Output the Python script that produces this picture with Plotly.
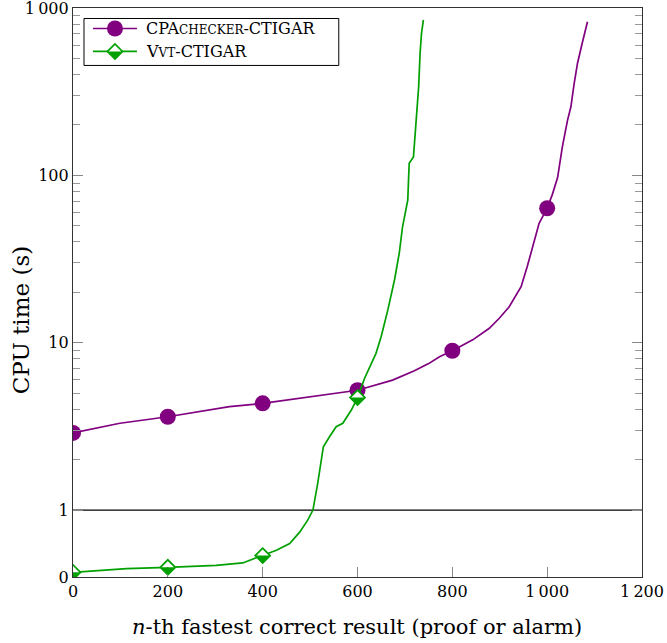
import numpy as np
import plotly.graph_objects as go

# ---------------- data ----------------
cpa_n = [0, 99, 200, 330, 400, 450, 520, 600, 674, 720, 750, 773, 800, 843, 878, 899, 920,
         945, 958, 973, 983, 1000, 1011, 1022, 1032, 1043, 1050, 1057, 1064, 1074, 1085]
cpa_t = [2.89, 3.30, 3.61, 4.15, 4.34, 4.55, 4.87, 5.2, 5.98, 6.8, 7.5, 8.25, 8.95, 10.4, 12.2,
         14.0, 16.4, 21.6, 28.5, 41.1, 51.7, 63.6, 77.0, 97.0, 148, 214, 257, 355, 468, 618, 828]

vvt_n = [0, 113, 200, 302, 358, 400, 429, 457, 478, 495, 506, 516, 523, 528, 541, 555, 569,
         587, 600, 615, 639, 650, 664, 678, 688, 695, 706, 709, 718, 723, 729, 732, 735, 739]
vvt_t = [0.07, 0.124, 0.145, 0.175, 0.21, 0.32, 0.40, 0.50, 0.67, 0.85, 1.0, 1.44, 1.99, 2.39,
         2.74, 3.15, 3.30, 3.96, 4.7, 6.13, 8.64, 10.9, 15.7, 23.7, 34.2, 49.3, 71.2, 118,
         129, 196, 339, 536, 706, 850]

mark_n = [0, 200, 400, 600, 800, 1000]

x_ticks = [0, 200, 400, 600, 800, 1000, 1200]
x_ticktext = ["0", "200", "400", "600", "800", "1\u2009000", "1\u2009200"]
y_tickvals_s = [0, 1, 10, 100, 1000]
y_ticktext = ["0", "1", "10", "100", "1\u2009000"]

series_names = ["CPA<span style='font-size:12px'>CHECKER</span>-CTIGAR",
                "V<span style='font-size:12px'>VT</span>-CTIGAR"]
purple = "#800080"
green = "#00A000"

# ---------------- scale (linear below 1, log above) ----------------
def T(t):
    t = np.asarray(t, dtype=float)
    return np.round(np.where(t >= 1, np.log10(np.maximum(t, 1e-12)), 0.4 * (t - 1)), 9)

def pick(ns, ts, sel):
    xs = [n for n in ns if n in sel]
    ys = [ts[ns.index(n)] for n in xs]
    return xs, ys

cpa_mx, cpa_my = pick(cpa_n, cpa_t, mark_n)
vvt_mx, vvt_my = pick(vvt_n, vvt_t, mark_n)

fig = go.Figure()
fig.add_trace(go.Scatter(x=cpa_n, y=T(cpa_t), mode="lines",
                         line=dict(color=purple, width=1.7), showlegend=False))
fig.add_trace(go.Scatter(x=cpa_mx, y=T(cpa_my), mode="markers",
                         marker=dict(symbol="circle", size=16, color=purple,
                                     line=dict(width=0)), showlegend=False))
fig.add_trace(go.Scatter(x=vvt_n, y=T(vvt_t), mode="lines",
                         line=dict(color=green, width=1.7), showlegend=False))
fig.add_trace(go.Scatter(x=vvt_mx, y=T(vvt_my), mode="markers",
                         marker=dict(symbol="diamond", size=11.5, color="white",
                                     line=dict(width=1.7, color=green)), showlegend=False))

shapes = []
shapes.append(dict(type="line", xref="paper", yref="y", x0=0, x1=1, y0=float(T(1)), y1=float(T(1)),
                   line=dict(color="black", width=1.3), layer="below"))
half = "M-7.5,0 L7.5,0 L0,-7.5 Z"
for xv, yv in zip(vvt_mx, T(vvt_my)):
    shapes.append(dict(type="path", xref="x", yref="y", xsizemode="pixel", ysizemode="pixel",
                       xanchor=xv, yanchor=float(yv), path=half,
                       fillcolor=green, line=dict(width=0), layer="above"))

# ---------------- manual legend ----------------
L, R, TOP, BOT = 73, 642.5, 7.5, 577
W = R - L
H = BOT - TOP
def px(xp):
    return (xp - L) / W
def py(yp):
    return (BOT - yp) / H

shapes.append(dict(type="rect", xref="paper", yref="paper", x0=px(84), x1=px(339),
                   y0=py(65), y1=py(18), line=dict(color="black", width=1),
                   fillcolor="white", layer="above"))
ys_leg = [28, 51]
cols = [purple, green]
for yl, c in zip(ys_leg, cols):
    shapes.append(dict(type="line", xref="paper", yref="paper", x0=px(93), x1=px(137),
                       y0=py(yl), y1=py(yl), line=dict(color=c, width=1.7), layer="above"))
shapes.append(dict(type="circle", xref="paper", yref="paper", xsizemode="pixel", ysizemode="pixel",
                   xanchor=px(115), yanchor=py(28), x0=-8, x1=8, y0=-8, y1=8,
                   fillcolor=purple, line=dict(width=0), layer="above"))
shapes.append(dict(type="path", xref="paper", yref="paper", xsizemode="pixel", ysizemode="pixel",
                   xanchor=px(115), yanchor=py(51), path="M-7.5,0 L0,7.5 L7.5,0 L0,-7.5 Z",
                   fillcolor="white", line=dict(color=green, width=1.7), layer="above"))
shapes.append(dict(type="path", xref="paper", yref="paper", xsizemode="pixel", ysizemode="pixel",
                   xanchor=px(115), yanchor=py(51), path=half,
                   fillcolor=green, line=dict(width=0), layer="above"))

font_family = "DejaVu Serif, serif"
annotations = []
for yl, name in zip(ys_leg, series_names):
    annotations.append(dict(xref="paper", yref="paper", x=px(144), y=py(yl), text=name,
                            showarrow=False, xanchor="left", yanchor="middle",
                            font=dict(family=font_family, size=16, color="black")))
annotations.append(dict(xref="paper", yref="paper", x=px(357), y=py(627),
                        text="<i>n</i>-th fastest correct result (proof or alarm)",
                        showarrow=False, xanchor="center", yanchor="middle",
                        font=dict(family=font_family, size=21, color="black")))
annotations.append(dict(xref="paper", yref="paper", x=px(21), y=py(320),
                        text="CPU time (s)", textangle=-90,
                        showarrow=False, xanchor="center", yanchor="middle",
                        font=dict(family=font_family, size=23, color="black")))

minor_vals = [float(np.log10(k * 10 ** d)) for d in range(3) for k in range(2, 10)]

fig.update_layout(
    width=667, height=643,
    margin=dict(l=L, r=667 - R, t=TOP, b=643 - BOT, autoexpand=False),
    paper_bgcolor="white", plot_bgcolor="white",
    showlegend=False,
    shapes=shapes, annotations=annotations,
    font=dict(family=font_family, size=16, color="black"),
    xaxis=dict(range=[0, 1200], tickmode="array", tickvals=x_ticks, ticktext=x_ticktext,
               ticks="inside", ticklen=10, tickwidth=1, tickcolor="#888",
               showline=True, linecolor="#333", linewidth=1.2, mirror=True,
               showgrid=False, zeroline=False, tickfont=dict(size=16),
               ticklabeloverflow="allow", automargin=False),
    yaxis=dict(range=[float(T(0)), 3.0], tickmode="array",
               tickvals=[float(v) for v in T(y_tickvals_s)], ticktext=y_ticktext,
               ticks="inside", ticklen=10, tickwidth=1, tickcolor="#888",
               showline=True, linecolor="#333", linewidth=1.2, mirror="allticks",
               showgrid=False, zeroline=False, tickfont=dict(size=16),
               ticklabeloverflow="allow", automargin=False,
               minor=dict(tickmode="array", tickvals=minor_vals, ticks="inside",
                          ticklen=7, tickwidth=1, tickcolor="#999", showgrid=False)),
)

fig.write_html("out.html", post_script="document.body.style.margin='0';",
               config={"displayModeBar": False})
